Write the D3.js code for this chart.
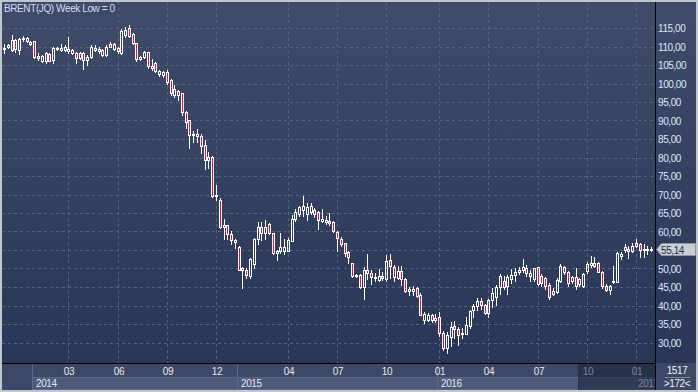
<!DOCTYPE html>
<html>
<head>
<meta charset="utf-8">
<script src="https://cdn.jsdelivr.net/npm/d3@7/dist/d3.min.js"></script>
<style>
  body { margin: 0; background: #c3c7cd; }
  svg { display: block; }
  text { font-family: "Liberation Sans", Arial, sans-serif; font-size: 10px; letter-spacing: -0.4px; }
</style>
</head>
<body>
<svg id="chart" width="698" height="392"></svg>
<script>
// weekly bars, plus the short bars at year ends
const firstWeek = '2013-11-11';
const lastWeek = '2017-01-30';
const extraBars = ['2014-01-02', '2014-12-31', '2015-12-31'];

const opens = [
  109.2,110.0,109.1,111.7,109.1,111.9,112.3,110.8,111.4,106.9,
  107.5,106.0,108.0,106.4,109.3,109.0,109.1,108.7,109.1,108.2,
  106.9,108.2,106.4,107.1,109.1,108.7,109.0,107.8,110.0,110.6,
  109.6,108.2,113.2,115.0,113.4,110.9,106.6,107.1,108.4,104.2,
  105.5,102.5,102.4,103.0,100.9,96.8,98.0,97.3,92.3,90.0,
  86.1,85.8,85.7,83.3,79.4,80.1,69.5,68.6,61.1,61.8,
  59.3,57.7,55.7,49.6,49.6,48.0,51.2,58.0,61.1,59.5,
  62.0,59.5,54.1,54.8,54.8,54.8,57.5,63.4,64.8,65.7,
  64.8,65.2,65.7,65.2,62.8,62.6,62.9,62.5,59.8,58.0,
  56.8,54.4,51.4,48.0,48.3,44.9,49.6,48.7,47.5,46.9,
  47.4,47.2,52.3,50.5,47.4,49.2,47.2,44.0,44.0,44.7,
  42.9,36.0,36.1,37.5,36.0,37.0,32.7,28.4,31.5,34.4,
  33.6,32.3,32.4,34.5,38.7,39.9,41.1,40.2,38.1,41.4,
  42.2,44.9,46.7,45.3,47.1,48.2,49.1,49.7,50.0,48.8,
  47.1,50.3,48.1,47.4,45.5,44.0,43.7,46.7,50.5,49.1,
  46.7,47.6,45.9,45.3,49.4,50.9,51.5,51.5,49.1,45.4,
  44.3,46.4,46.4,53.3,55.7,54.6,54.6,56.9,56.6,55.1,
  55.0,55.0
];
const highs = [
  110.8,110.7,113.2,112.0,112.3,112.9,112.6,111.5,111.6,108.2,
  107.6,108.5,108.2,110.0,110.0,110.8,110.5,112.7,109.4,108.5,
  108.5,108.5,107.8,110.3,110.5,110.0,109.3,110.3,111.1,110.9,
  109.8,114.7,115.4,115.9,113.7,111.0,107.5,108.7,108.5,106.6,
  105.8,103.6,103.5,103.6,101.2,99.5,98.3,97.5,92.6,90.2,
  87.2,87.8,86.4,84.7,81.5,80.5,72.7,69.0,63.4,61.8,
  60.2,58.0,56.0,50.3,50.2,52.8,58.2,62.5,62.5,63.2,
  62.2,59.7,54.9,59.5,58.0,58.3,64.5,66.0,67.0,69.5,
  67.6,67.6,66.3,65.5,66.1,64.3,65.0,62.8,60.0,58.6,
  57.0,54.6,51.6,48.6,48.5,50.3,53.9,49.6,48.9,49.9,
  49.1,53.7,53.9,50.9,50.8,50.7,47.5,45.0,45.2,45.0,
  43.4,38.2,38.0,37.7,37.7,38.2,33.0,32.8,35.5,35.8,
  34.2,34.0,36.8,38.8,40.5,42.0,42.0,40.5,41.8,44.6,
  45.6,48.4,48.0,48.2,49.9,50.0,50.5,52.7,51.0,49.5,
  50.1,50.5,48.4,47.8,46.0,44.8,47.3,51.2,50.8,49.3,
  48.0,50.2,47.4,48.8,51.7,53.5,53.0,51.8,49.3,45.8,
  45.6,50.8,54.5,54.4,56.6,56.1,56.9,58.0,57.0,56.6,
  56.2,55.8
];
const lows = [
  108.2,109.6,108.9,108.6,108.0,111.4,111.2,110.3,106.9,106.4,
  105.8,105.5,106.0,105.5,109.0,108.8,108.9,108.2,107.9,105.5,
  106.6,103.9,105.1,106.8,108.8,108.2,107.5,107.5,109.8,109.0,
  108.3,108.0,112.7,112.6,110.6,106.2,106.4,106.8,104.3,103.7,
  103.2,102.0,101.8,99.8,96.9,96.4,95.5,91.4,88.0,82.6,
  84.2,84.2,81.3,76.9,77.2,69.3,68.4,60.9,58.0,57.9,
  56.6,55.5,49.5,44.7,47.3,47.4,50.1,56.6,57.8,58.0,
  59.2,54.0,52.4,54.1,54.0,54.6,57.3,62.8,64.3,64.2,
  63.0,64.7,64.0,60.7,62.5,62.0,61.8,59.8,54.8,56.2,
  53.5,51.5,47.6,47.7,44.7,41.7,47.1,45.8,46.5,46.7,
  46.8,46.7,47.4,46.5,47.1,45.6,43.6,42.9,42.9,42.4,
  37.3,35.4,35.8,35.6,35.6,31.8,28.1,27.1,29.0,31.3,
  29.4,31.3,32.2,34.0,36.8,38.9,39.0,37.8,37.0,39.7,
  40.1,43.1,44.5,43.2,46.2,46.7,48.6,49.0,48.0,46.5,
  46.6,45.5,45.3,44.5,41.8,42.8,43.4,46.3,48.5,45.2,
  46.2,44.5,45.4,45.0,48.9,50.3,50.5,49.0,44.8,43.9,
  43.1,46.2,46.3,52.6,54.4,52.8,54.5,55.8,53.0,53.0,
  53.8,54.6
];
const closes = [
  109.6,110.4,111.7,109.3,112.0,112.3,111.4,111.1,107.1,107.5,
  106.2,108.2,106.2,109.6,109.6,109.6,109.9,109.3,108.2,106.9,
  108.2,106.4,107.1,110.0,109.6,109.3,107.8,110.0,110.7,109.3,
  108.7,114.1,114.5,112.9,110.9,106.6,107.1,108.4,104.6,104.6,
  103.5,103.3,103.1,100.5,97.3,98.4,96.8,92.3,89.6,86.0,
  86.4,86.3,83.0,79.4,80.1,69.5,70.0,61.2,61.8,59.2,
  57.7,57.1,49.6,50.0,48.3,52.6,58.0,61.1,59.5,61.3,
  59.5,54.1,54.8,55.9,55.9,57.7,63.4,65.2,66.6,67.0,
  66.7,67.0,64.8,63.0,63.4,63.1,62.2,60.1,58.3,56.6,
  54.1,53.0,48.0,48.3,44.9,49.6,48.7,47.6,47.6,48.1,
  48.0,52.1,50.8,47.6,49.2,47.2,44.0,44.4,44.4,42.6,
  37.5,37.7,37.5,36.0,36.6,32.7,28.4,32.0,34.2,33.6,
  32.1,32.6,34.7,38.4,39.9,41.1,40.2,38.1,41.5,43.3,
  44.9,47.9,44.9,47.6,48.2,49.1,49.7,50.3,48.8,48.0,
  50.0,45.8,46.1,45.3,42.2,43.2,47.0,50.8,49.0,46.1,
  47.6,45.3,47.1,48.5,51.2,51.5,50.8,49.1,45.2,44.3,
  45.2,46.7,54.2,53.9,55.1,55.3,56.2,56.2,55.1,55.4,
  55.3,55.14
];

const priceTicks = [30,35,40,45,50,55,60,65,70,75,80,85,90,95,100,105,110,115];
const monthTicks = ['2014-03','2014-06','2014-09','2014-12','2015-04','2015-07','2015-10',
                    '2016-01','2016-04','2016-07','2016-10','2017-01'];
const yearLabels = ['2014','2015','2016','2017'];
const title = 'BRENT(JQ) Week Low = 0';
const lastPrice = 55.14;
const infoTop = '1517', infoBottom = '>172<';

let svg = d3.select('#chart');
let parse = d3.timeParse('%Y-%m-%d');
let monthKey = d3.timeFormat('%Y-%m');
let fmt = d3.formatLocale({decimal: ',', thousands: '.', grouping: [3], currency: ['', '']}).format('.2f');

let dates = d3.timeMonday.range(parse(firstWeek), d3.timeDay.offset(parse(lastWeek), 1))
  .concat(extraBars.map(parse))
  .sort(d3.ascending);
let bars = dates.map((d, i) => ({date: d, o: opens[i], h: highs[i], l: lows[i], c: closes[i]}));

let plotL = 2, plotR = 655, plotT = 2, plotB = 363, right = 696, bottom = 390;

let x = d3.scaleBand().domain(d3.range(bars.length)).range([2.1, 653.1]);
let y = d3.scaleLinear().domain([30, 115]).range([342.5, 28]);
let cx = i => Math.round(x(i) + x.bandwidth() / 2);

// background
let defs = svg.append('defs');
let grad = defs.append('linearGradient').attr('id', 'bg').attr('x1', 0).attr('y1', 0).attr('x2', 0).attr('y2', 1);
grad.append('stop').attr('offset', '0%').attr('stop-color', '#3f4b69');
grad.append('stop').attr('offset', '100%').attr('stop-color', '#2a3657');

svg.append('rect').attr('x', plotL).attr('y', plotT).attr('width', right - plotL).attr('height', plotB - plotT)
  .attr('fill', 'url(#bg)');
svg.append('rect').attr('x', plotL).attr('y', plotB).attr('width', right - plotL).attr('height', bottom - plotB)
  .attr('fill', '#3c4865');

defs.append('clipPath').attr('id', 'plotclip').append('rect')
  .attr('x', plotL).attr('y', plotT).attr('width', plotR - plotL).attr('height', plotB - plotT);
defs.append('clipPath').attr('id', 'axisclip').append('rect')
  .attr('x', plotL).attr('y', plotB).attr('width', plotR - plotL).attr('height', bottom - plotB);

// grid
let tickIdx = monthTicks.map(m => ({m: m, i: bars.findIndex(b => monthKey(b.date) === m)}));

let grid = svg.append('g').attr('stroke', '#56637f').attr('stroke-dasharray', '3,3').attr('shape-rendering', 'crispEdges');
grid.selectAll('.hg').data(priceTicks).enter().append('line')
  .attr('x1', plotL).attr('x2', plotR)
  .attr('y1', d => Math.round(y(d)) + 0.5).attr('y2', d => Math.round(y(d)) + 0.5);
grid.selectAll('.vg').data(tickIdx).enter().append('line')
  .attr('x1', d => cx(d.i) + 0.5).attr('x2', d => cx(d.i) + 0.5)
  .attr('y1', plotT).attr('y2', plotB);

// candles
let candles = svg.append('g').attr('clip-path', 'url(#plotclip)').attr('shape-rendering', 'crispEdges');
let node = candles.selectAll('.candle').data(bars).enter().append('g').attr('class', 'candle');

node.each(function (d, i) {
  let g = d3.select(this);
  let px = cx(i);
  let yt = Math.round(y(Math.max(d.o, d.c)));
  let yb = Math.round(y(Math.min(d.o, d.c)));
  if (yb - yt < 1) yb = yt + 1;
  let yh = Math.round(y(d.h)), yl = Math.round(y(d.l));
  if (yh < yt) g.append('line').attr('x1', px + 0.5).attr('x2', px + 0.5).attr('y1', yh).attr('y2', yt).attr('stroke', '#fff');
  if (yl > yb) g.append('line').attr('x1', px + 0.5).attr('x2', px + 0.5).attr('y1', yb).attr('y2', yl + 1).attr('stroke', '#fff');
  g.append('rect')
    .attr('x', px - 0.5).attr('y', yt + 0.5)
    .attr('width', 2).attr('height', yb - yt)
    .attr('fill', d.c < d.o ? '#de1443' : 'none')
    .attr('stroke', '#fff').attr('stroke-width', 1);
});

// right axis (the label under the price marker is hidden)
let yp = Math.round(y(lastPrice)) + 0.5;
svg.append('g').selectAll('text').data(priceTicks.filter(d => Math.abs(y(d) - yp) > 9)).enter().append('text')
  .attr('x', 658).attr('y', d => y(d) + 4)
  .attr('fill', '#dfe7f5')
  .text(d => fmt(d));

// last price marker
svg.append('path')
  .attr('d', `M656.5,${yp} L661.5,${yp - 6} L695.5,${yp - 6} L695.5,${yp + 6} L661.5,${yp + 6} Z`)
  .attr('fill', '#c9cdd4').attr('stroke', '#8f96a3');
svg.append('text').attr('x', 661).attr('y', yp + 4).attr('fill', '#27304a').text(fmt(lastPrice));

// bottom axis
let axis = svg.append('g').attr('clip-path', 'url(#axisclip)');
let yearStarts = yearLabels.map(yr => bars.findIndex(b => b.date.getFullYear() === +yr));
yearLabels.forEach((yr, k) => {
  let x0 = Math.round(x(yearStarts[k]));
  let x1 = k + 1 < yearLabels.length ? Math.round(x(yearStarts[k + 1])) : plotR;
  axis.append('rect').attr('x', x0 + 0.5).attr('y', 377.5).attr('width', x1 - x0).attr('height', 12)
    .attr('fill', '#4d5a78').attr('stroke', '#5b6886');
  axis.append('line').attr('x1', x0 + 0.5).attr('x2', x0 + 0.5).attr('y1', plotB + 1).attr('y2', bottom)
    .attr('stroke', '#5b6886');
  axis.append('text').attr('x', x0 + 4).attr('y', 387).attr('fill', '#e3e9f4').text(yr);
});
axis.selectAll('.mt').data(tickIdx).enter().append('text')
  .attr('x', d => cx(d.i) + 1).attr('y', 375)
  .attr('text-anchor', 'middle').attr('fill', '#e3e9f4')
  .text(d => d.m.slice(5));

// dark band over the last months
axis.append('rect').attr('x', Math.round(x(152)) + 1).attr('y', plotB + 1)
  .attr('width', plotR - Math.round(x(152)) - 1).attr('height', bottom - plotB - 1)
  .attr('fill', '#111a30').attr('opacity', 0.5);
axis.append('line').attr('x1', Math.round(x(152)) + 1.5).attr('x2', Math.round(x(152)) + 1.5)
  .attr('y1', plotB + 1).attr('y2', bottom).attr('stroke', '#263049');

// frame lines
svg.append('line').attr('x1', plotR + 0.5).attr('x2', plotR + 0.5).attr('y1', plotT).attr('y2', bottom)
  .attr('stroke', '#000');
svg.append('line').attr('x1', plotL).attr('x2', plotR).attr('y1', plotB + 0.5).attr('y2', plotB + 0.5)
  .attr('stroke', '#000');

// info box
svg.append('text').attr('x', 677).attr('y', 374).attr('text-anchor', 'middle').attr('fill', '#eef2f8').text(infoTop);
svg.append('line').attr('x1', 665).attr('x2', 690).attr('y1', 377.5).attr('y2', 377.5).attr('stroke', '#7d8aa6');
svg.append('text').attr('x', 677).attr('y', 387).attr('text-anchor', 'middle').attr('fill', '#eef2f8').text(infoBottom);

// title
svg.append('text').attr('x', 4).attr('y', 12).attr('fill', '#d3ddf0').text(title);
</script>
</body>
</html>
